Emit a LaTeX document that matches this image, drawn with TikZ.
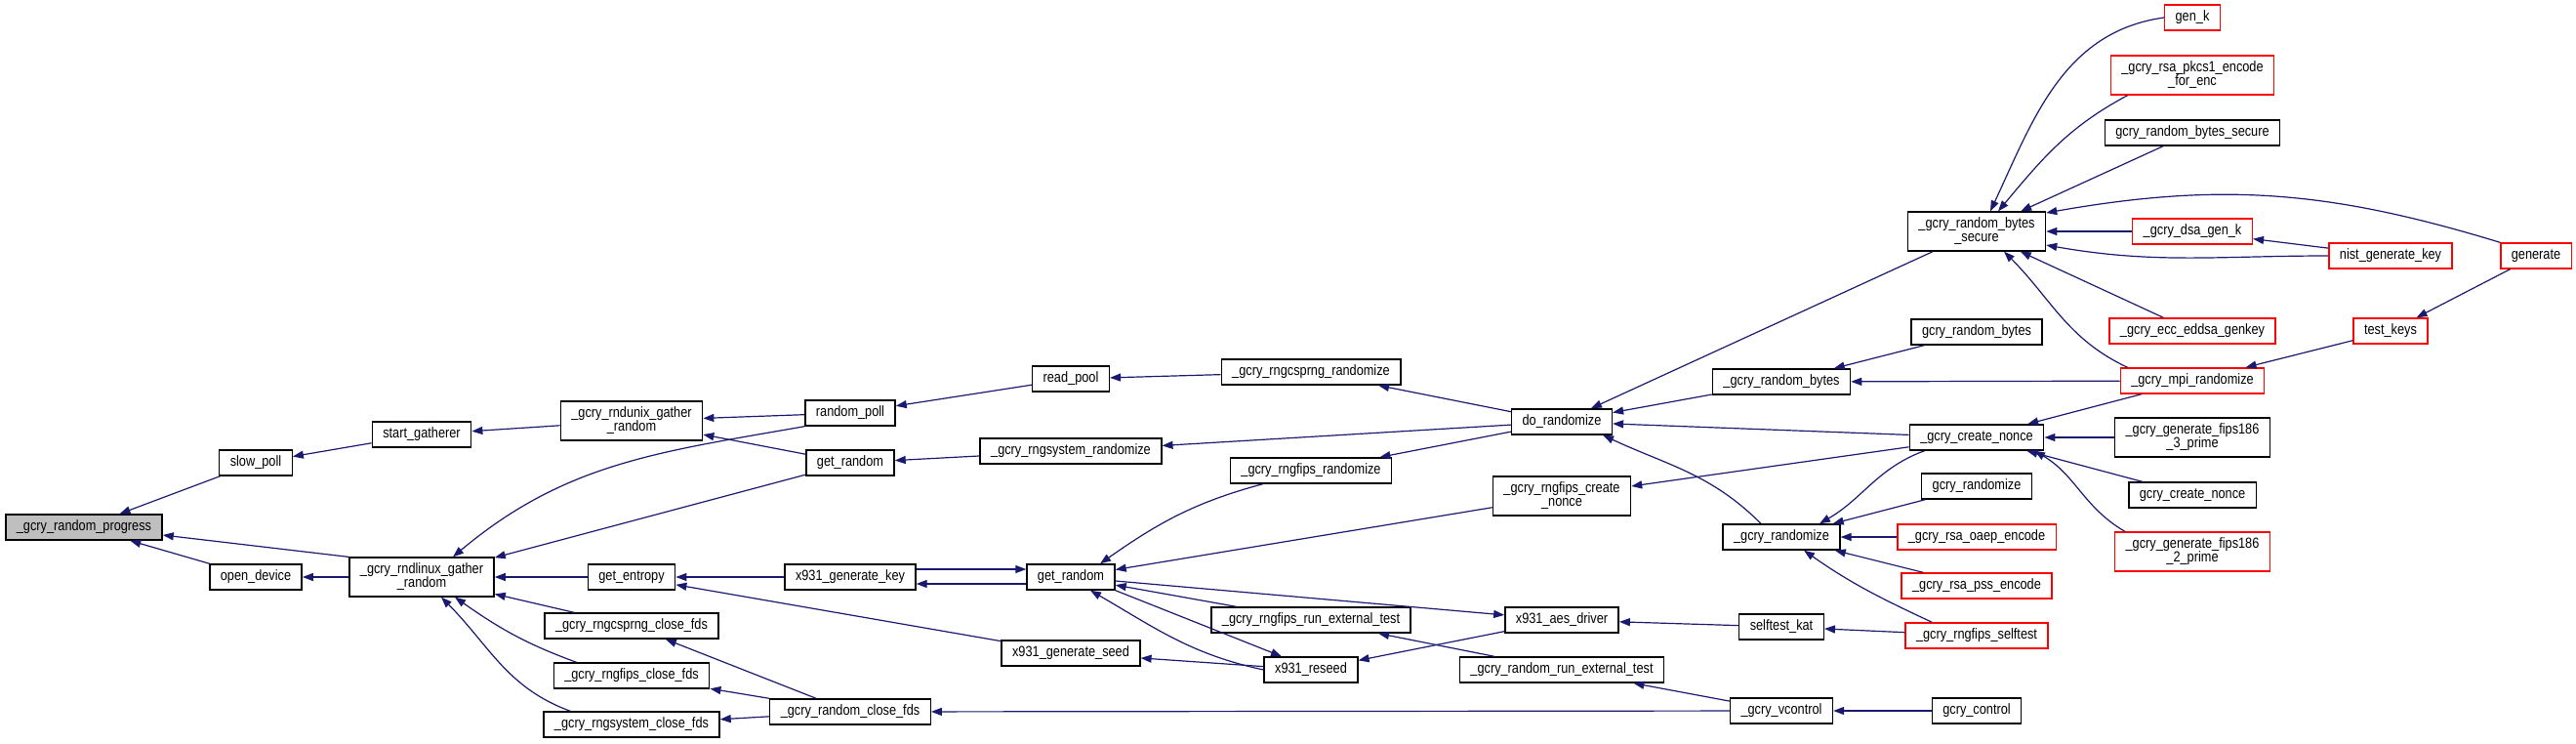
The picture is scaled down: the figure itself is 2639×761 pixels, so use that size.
\documentclass[tikz,border=0pt]{standalone}
\usepackage{fontspec}
\setmainfont{Liberation Sans}[FakeStretch=0.85]
\usetikzlibrary{arrows.meta}
\definecolor{edgeblue}{RGB}{25,25,112}
\definecolor{undocred}{RGB}{255,0,0}
\definecolor{rootgray}{RGB}{191,191,191}
\tikzset{
  func/.style={draw=black,line width=0.7pt,fill=white,align=center,
               font=\fontsize{7.5}{7}\selectfont,inner xsep=5.5pt,inner ysep=3pt,
               minimum height=13pt},
  funcred/.style={func,draw=undocred},
  funcroot/.style={func,fill=rootgray},
  call/.style={edgeblue,line width=0.6pt,-{Triangle[length=5.5pt,width=4pt]}},
}

\begin{document}
\begin{tikzpicture}[x=0.5pt,y=-0.5pt]
  \path[use as bounding box] (0,0) rectangle (2639,761);

  \node[funcroot] (prog) at (86,540) {\_gcry\_random\_progress};
  \node[func] (slowpoll) at (262,474) {slow\_poll};
  \node[func] (opendev) at (262,591) {open\_device};
  \node[func] (startg) at (432,445) {start\_gatherer};
  \node[func] (lingather) at (432,591) {\_gcry\_rndlinux\_gather\\\_random};
  \node[func] (unixgather) at (647,431) {\_gcry\_rndunix\_gather\\\_random};
  \node[func] (getent) at (647,591) {get\_entropy};
  \node[func] (cspclose) at (647,641) {\_gcry\_rngcsprng\_close\_fds};
  \node[func] (fipsclose) at (647,692) {\_gcry\_rngfips\_close\_fds};
  \node[func] (sysclose) at (647,742) {\_gcry\_rngsystem\_close\_fds};
  \node[func] (rndpoll) at (871,423) {random\_poll};
  \node[func] (getrndA) at (871,474) {get\_random};
  \node[func] (x9key) at (871,591) {x931\_generate\_key};
  \node[func] (rndclose) at (871,729) {\_gcry\_random\_close\_fds};
  \node[func] (readpool) at (1097,388) {read\_pool};
  \node[func] (sysrand) at (1097,462) {\_gcry\_rngsystem\_randomize};
  \node[func] (getrndB) at (1097,591) {get\_random};
  \node[func] (x9seed) at (1097,669) {x931\_generate\_seed};
  \node[func] (csprand) at (1343,381) {\_gcry\_rngcsprng\_randomize};
  \node[func] (fipsrand) at (1343,482) {\_gcry\_rngfips\_randomize};
  \node[func] (fipsext) at (1343,635) {\_gcry\_rngfips\_run\_external\_test};
  \node[func] (x9reseed) at (1343,686) {x931\_reseed};
  \node[func] (dorand) at (1600,432) {do\_randomize};
  \node[func] (fipsnonce) at (1600,508) {\_gcry\_rngfips\_create\\\_nonce};
  \node[func] (x9aes) at (1600,635) {x931\_aes\_driver};
  \node[func] (rndext) at (1600,686) {\_gcry\_random\_run\_external\_test};
  \node[func] (rbytes) at (1825,391) {\_gcry\_random\_bytes};
  \node[func] (grandomize) at (1825,550) {\_gcry\_randomize};
  \node[func] (stkat) at (1825,642) {selftest\_kat};
  \node[func] (vctl) at (1825,728) {\_gcry\_vcontrol};
  \node[func] (rbsec) at (2025,237) {\_gcry\_random\_bytes\\\_secure};
  \node[func] (grbytes) at (2025,340) {gcry\_random\_bytes};
  \node[func] (cnonce) at (2025,448) {\_gcry\_create\_nonce};
  \node[func] (gcryrand) at (2025,498) {gcry\_randomize};
  \node[funcred] (oaep) at (2025,550) {\_gcry\_rsa\_oaep\_encode};
  \node[funcred] (pss) at (2025,600) {\_gcry\_rsa\_pss\_encode};
  \node[funcred] (fipsst) at (2025,651) {\_gcry\_rngfips\_selftest};
  \node[func] (gctl) at (2025,728) {gcry\_control};
  \node[funcred] (genk) at (2246,18) {gen\_k};
  \node[funcred] (pkcs) at (2246,77) {\_gcry\_rsa\_pkcs1\_encode\\\_for\_enc};
  \node[func] (grbsec) at (2246,136) {gcry\_random\_bytes\_secure};
  \node[funcred] (dsagenk) at (2246,237) {\_gcry\_dsa\_gen\_k};
  \node[funcred] (eddsa) at (2246,339) {\_gcry\_ecc\_eddsa\_genkey};
  \node[funcred] (mpirand) at (2246,390) {\_gcry\_mpi\_randomize};
  \node[func] (fips3) at (2246,448) {\_gcry\_generate\_fips186\\\_3\_prime};
  \node[func] (gcnonce) at (2246,507) {gcry\_create\_nonce};
  \node[funcred] (fips2) at (2246,565) {\_gcry\_generate\_fips186\\\_2\_prime};
  \node[funcred] (nistkey) at (2449,262) {nist\_generate\_key};
  \node[funcred] (testkeys) at (2449,339) {test\_keys};
  \node[funcred] (generate) at (2598,262) {generate};

  \foreach \src/\dst in {slowpoll/prog, opendev/prog, startg/slowpoll, unixgather/startg,
      lingather/opendev, rndpoll/unixgather, getrndA/unixgather, getrndA/lingather,
      getent/lingather, cspclose/lingather, readpool/rndpoll, csprand/readpool,
      sysrand/getrndA, x9key/getent, x9seed/getent, rndclose/cspclose,
      rndclose/fipsclose, rndclose/sysclose, dorand/csprand, dorand/sysrand,
      dorand/fipsrand, fipsnonce/getrndB, getrndB/x9aes, fipsext/getrndB,
      x9reseed/x9seed, x9aes/x9reseed, rndext/fipsext, vctl/rndclose, vctl/rndext,
      gctl/vctl, rbytes/dorand, rbsec/dorand, cnonce/dorand, cnonce/fipsnonce,
      gcryrand/grandomize, oaep/grandomize, pss/grandomize, fipsst/stkat,
      stkat/x9aes, grbytes/rbytes, mpirand/rbytes, testkeys/mpirand,
      generate/testkeys, grbsec/rbsec, dsagenk/rbsec, nistkey/dsagenk,
      eddsa/rbsec, mpirand/cnonce, fips3/cnonce, gcnonce/cnonce}
    \draw[call] (\src) -- (\dst);

  \draw[call] (lingather.north west) -- ([yshift=-4pt]prog.east);
  \draw[call] ([yshift=4pt]x9key.east) -- ([yshift=4pt]getrndB.west);
  \draw[call] ([yshift=-3.5pt]getrndB.west) -- ([yshift=-3.5pt]x9key.east);
  \draw[call] (rndpoll.south west) to[out=190,in=40] ([xshift=16pt]lingather.north);
  \draw[call] ([xshift=12pt]fipsclose.north west) to[out=160,in=-35] ([xshift=17pt]lingather.south);
  \draw[call] ([xshift=14pt]sysclose.north west) to[out=160,in=-45] ([xshift=10pt]lingather.south);
  \draw[call] ([xshift=17pt]fipsrand.south west) to[out=195,in=35] ([xshift=15pt]getrndB.north);
  \draw[call] (getrndB.south east) -- ([xshift=-15pt]x9reseed.north);
  \draw[call] (x9reseed.west) to[out=168,in=-30] ([xshift=10pt]getrndB.south);
  \draw[call] ([xshift=-10.5pt]grandomize.north) to[out=135,in=-25] ([xshift=-5pt]dorand.south east);
  \draw[call] ([xshift=8pt]cnonce.south west) to[out=200,in=30] ([xshift=19.5pt]grandomize.north);
  \draw[call] ([xshift=14pt]fipsst.north west) to[out=155,in=-35] ([xshift=11.5pt]grandomize.south);
  \draw[call] ([xshift=4pt]mpirand.north west) to[out=155,in=-45] ([xshift=14pt]rbsec.south);
  \draw[call] (generate.north west) to[out=163,in=10] ([yshift=9.5pt]rbsec.east);
  \draw[call] (genk.west) to[out=188,in=65] ([xshift=7pt]rbsec.north);
  \draw[call] ([xshift=9pt]pkcs.south west) to[out=208,in=50] ([xshift=11pt]rbsec.north);
  \draw[call] (nistkey.west) to[out=180,in=-10] ([yshift=-7pt]rbsec.east);
  \draw[call] ([xshift=5.5pt]fips2.north west) to[out=150,in=-30] ([xshift=29.5pt]cnonce.south);
\end{tikzpicture}
\end{document}
